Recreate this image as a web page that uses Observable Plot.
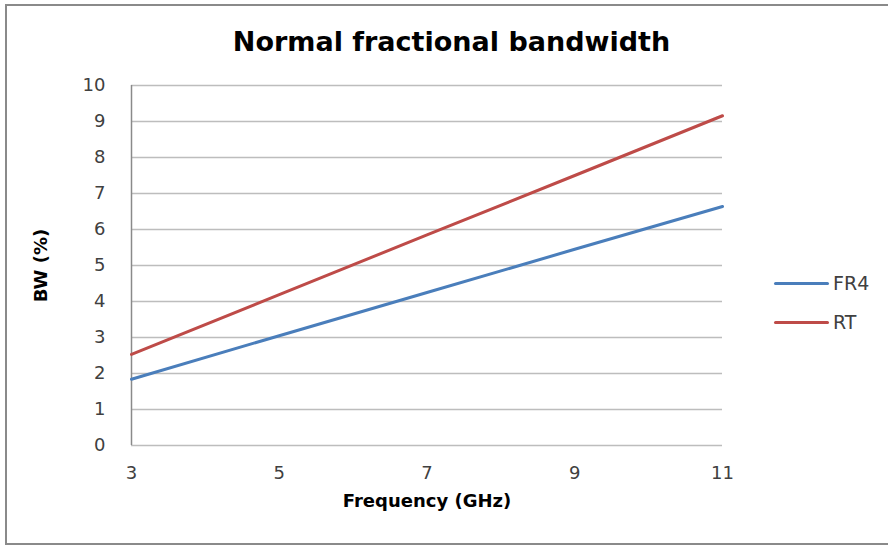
<!DOCTYPE html>
<html>
<head>
<meta charset="utf-8">
<script src="https://cdn.jsdelivr.net/npm/d3@7"></script>
<script src="https://cdn.jsdelivr.net/npm/@observablehq/plot@0.6"></script>
<style>
  html, body { margin: 0; padding: 0; background: #fff; }
  #wrap { position: relative; width: 888px; height: 545px; overflow: hidden; font-family: "DejaVu Sans", sans-serif; }
  #frame { position: absolute; left: 5px; top: 4px; width: 900px; height: 537px; border-left: 2px solid #8a8a8a; border-top: 2px solid #8a8a8a; border-bottom: 2px solid #8a8a8a; box-sizing: content-box; }
  #title { position: absolute; left: 0; width: 903px; top: 25px; text-align: center; font-weight: bold; font-size: 27px; line-height: 34px; color: #000; }
  #chart { position: absolute; left: 0; top: 0; }
  #legend { position: absolute; left: 774px; top: 270px; font-size: 19px; color: #404040; }
  .item { display: flex; align-items: center; height: 26px; margin-bottom: 13px; }
  .sw { width: 55px; height: 3px; margin-right: 4px; border-radius: 2px; }
</style>
</head>
<body>
<div id="wrap">
  <div id="frame"></div>
  <div id="chart"></div>
  <div id="title">Normal fractional bandwidth</div>
  <div id="legend"></div>
</div>
<script>
const frequency = [3, 5, 7, 9, 11];
const fr4 = [1.84, 3.05, 4.25, 5.45, 6.64];
const rt = [2.53, 4.19, 5.85, 7.50, 9.16];
const seriesNames = ["FR4", "RT"];
const seriesColors = ["#4a7ebb", "#be4b48"];
const xTicks = [3, 5, 7, 9, 11];
const yTicks = [0, 1, 2, 3, 4, 5, 6, 7, 8, 9, 10];

const data = [];
frequency.forEach((f, i) => {
  data.push({series: "FR4", f, bw: fr4[i]});
  data.push({series: "RT", f, bw: rt[i]});
});

const chart = Plot.plot({
  width: 888,
  height: 545,
  marginLeft: 131,
  marginRight: 166,
  marginTop: 85,
  marginBottom: 100,
  style: {fontFamily: "DejaVu Sans, sans-serif", fontSize: "18px", color: "#404040", background: "transparent", overflow: "visible"},
  x: {domain: [3, 11], ticks: xTicks, tickSize: 0, tickPadding: 21, label: null},
  y: {domain: [0, 10], ticks: yTicks, tickSize: 0, tickPadding: 26, label: null},
  color: {domain: seriesNames, range: seriesColors},
  marks: [
    Plot.ruleY(yTicks, {stroke: "#bdbdbd", strokeWidth: 1.5}),
    Plot.ruleX([3], {stroke: "#8a8a8a", strokeWidth: 1.5}),
    Plot.axisX({ticks: xTicks, tickSize: 0, tickPadding: 21, fill: "#404040", fontSize: 18}),
    Plot.axisY({ticks: yTicks, tickSize: 0, tickPadding: 26, fill: "#404040", fontSize: 18}),
    Plot.line(data, {x: "f", y: "bw", z: "series", stroke: "series", strokeWidth: 3}),
    Plot.text(["Frequency (GHz)"], {frameAnchor: "bottom", dy: 61, text: d => d, fontWeight: "bold", fontSize: 18, fill: "#000"}),
    Plot.text(["BW (%)"], {frameAnchor: "left", textAnchor: "middle", dx: -90, rotate: -90, text: d => d, fontWeight: "bold", fontSize: 18, fill: "#000"})
  ]
});
document.getElementById("chart").appendChild(chart);

const legend = document.getElementById("legend");
seriesNames.forEach((n, i) => {
  const item = document.createElement("div");
  item.className = "item";
  const sw = document.createElement("div");
  sw.className = "sw";
  sw.style.background = seriesColors[i];
  const t = document.createElement("span");
  t.textContent = n;
  item.appendChild(sw);
  item.appendChild(t);
  legend.appendChild(item);
});
</script>
</body>
</html>
